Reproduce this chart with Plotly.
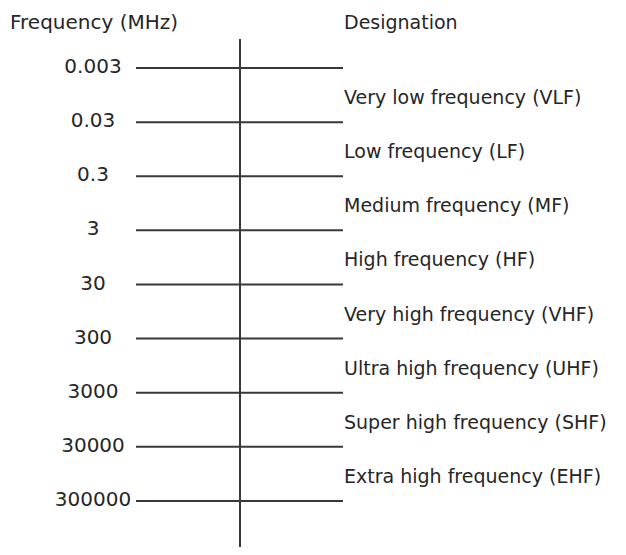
import math
import plotly.graph_objects as go

# ---- data ----
freq_labels = ["0.003", "0.03", "0.3", "3", "30", "300", "3000", "30000", "300000"]
freq_values = [0.003, 0.03, 0.3, 3, 30, 300, 3000, 30000, 300000]
designations = [
    "Very low frequency (VLF)",
    "Low frequency (LF)",
    "Medium frequency (MF)",
    "High frequency (HF)",
    "Very high frequency (VHF)",
    "Ultra high frequency (UHF)",
    "Super high frequency (SHF)",
    "Extra high frequency (EHF)",
]
left_header = "Frequency (MHz)"
right_header = "Designation"

# ---- layout helpers ----
PAGE_MARGIN = 8                     # default body margin of the html page
W, H = 626 - 2 * PAGE_MARGIN, 555 - 2 * PAGE_MARGIN
def px(v):                          # page pixel -> figure pixel
    return v - PAGE_MARGIN

TOP_PX, BOT_PX = px(68), px(501)    # rows of first / last boundary
px_per_dec = (BOT_PX - TOP_PX) / (math.log10(freq_values[-1]) - math.log10(freq_values[0]))
y_top = math.log10(freq_values[0]) - TOP_PX / px_per_dec
y_bot = math.log10(freq_values[-1]) + (H - BOT_PX) / px_per_dec

LINE_X0, LINE_X1, AXIS_X = px(136), px(343), px(240)
LABEL_X, DESIG_X = px(93), px(342)
INK = "#383838"
TXT = "#262626"
FONT = dict(family="DejaVu Sans, Arial, sans-serif", size=20, color=TXT)
DFONT = dict(family="DejaVu Sans, Arial, sans-serif", size=19, color=TXT)

fig = go.Figure()

# horizontal boundary lines
xs, ys = [], []
for f in freq_values:
    xs += [LINE_X0, LINE_X1, None]
    ys += [f, f, None]
fig.add_trace(go.Scatter(x=xs, y=ys, mode="lines",
                         line=dict(color=INK, width=2), hoverinfo="skip",
                         showlegend=False))

# frequency labels (centered)
fig.add_trace(go.Scatter(x=[LABEL_X] * len(freq_values), y=freq_values,
                         mode="text", text=freq_labels,
                         textposition="middle center", textfont=FONT,
                         hoverinfo="skip", showlegend=False))

# designation labels midway (in log) between boundaries
mids = [math.sqrt(a * b) for a, b in zip(freq_values[:-1], freq_values[1:])]
for m, d in zip(mids, designations):
    fig.add_annotation(x=DESIG_X, y=math.log10(m), text=d, showarrow=False,
                       xanchor="left", yanchor="middle", font=DFONT, yshift=-2)

# headers
hy = 1 - px(22) / H
fig.add_annotation(x=0, y=hy, xref="paper", yref="paper", text=left_header,
                   showarrow=False, xanchor="left", yanchor="middle", font=FONT)
fig.add_annotation(x=DESIG_X, y=hy, xref="x", yref="paper", text=right_header,
                   showarrow=False, xanchor="left", yanchor="middle", font=DFONT)

# vertical axis line
fig.add_shape(type="line", x0=AXIS_X, x1=AXIS_X, xref="x", yref="paper",
              y0=1 - px(39) / H, y1=0, line=dict(color=INK, width=2))

fig.update_xaxes(range=[0, W], visible=False, fixedrange=True)
fig.update_yaxes(type="log", range=[y_bot, y_top], visible=False, fixedrange=True)
fig.update_layout(width=W, height=H, margin=dict(l=0, r=0, t=0, b=0),
                  paper_bgcolor="white", plot_bgcolor="white")

fig.write_html("out.html", config={"displayModeBar": False})
